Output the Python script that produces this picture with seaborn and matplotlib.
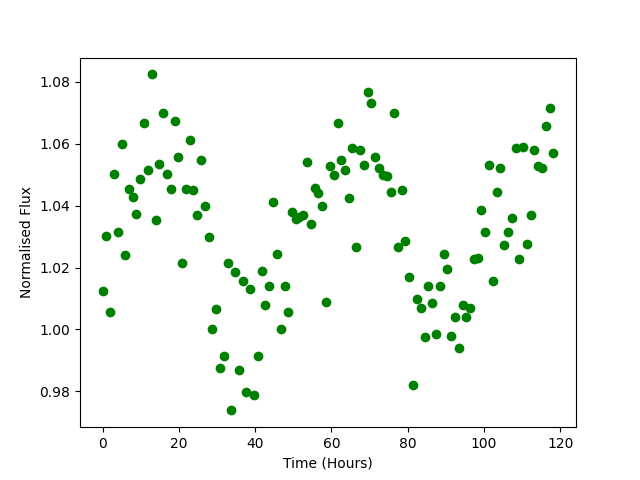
import matplotlib
matplotlib.use("Agg")
import matplotlib.pyplot as plt
import seaborn as sns
import pandas as pd

time_hours = [
    0.0, 1.0, 2.0, 3.0, 4.0, 5.0, 6.0, 7.0, 7.9, 8.9,
    9.9, 10.9, 11.9, 12.9, 13.9, 14.9, 15.9, 16.9, 17.9, 18.9,
    19.9, 20.9, 21.8, 22.8, 23.8, 24.8, 25.8, 26.8, 27.8, 28.8,
    29.8, 30.8, 31.8, 32.8, 33.8, 34.8, 35.7, 36.7, 37.7, 38.7,
    39.7, 40.7, 41.7, 42.7, 43.7, 44.7, 45.7, 46.7, 47.7, 48.7,
    49.6, 50.6, 51.6, 52.6, 53.6, 54.6, 55.6, 56.6, 57.6, 58.6,
    59.6, 60.6, 61.6, 62.6, 63.6, 64.5, 65.5, 66.5, 67.5, 68.5,
    69.5, 70.5, 71.5, 72.5, 73.5, 74.5, 75.5, 76.5, 77.5, 78.5,
    79.4, 80.4, 81.4, 82.4, 83.4, 84.4, 85.4, 86.4, 87.4, 88.4,
    89.4, 90.4, 91.4, 92.4, 93.4, 94.4, 95.3, 96.3, 97.3, 98.3,
    99.3, 100.3, 101.3, 102.3, 103.3, 104.3, 105.3, 106.3, 107.3, 108.3,
    109.2, 110.2, 111.2, 112.2, 113.2, 114.2, 115.2, 116.2, 117.2, 118.2,
]

norm_flux = [
    1.0123, 1.0303, 1.0058, 1.0503, 1.0313, 1.0597, 1.0239, 1.0452, 1.0426, 1.0374,
    1.0487, 1.0665, 1.0513, 1.0823, 1.0352, 1.0535, 1.0697, 1.0503, 1.0452, 1.0674,
    1.0555, 1.0213, 1.0452, 1.0610, 1.0450, 1.0368, 1.0548, 1.0400, 1.0297, 1.0003,
    1.0065, 0.9877, 0.9916, 1.0213, 0.9739, 1.0184, 0.9870, 1.0155, 0.9797, 1.0130,
    0.9790, 0.9916, 1.0190, 1.0080, 1.0139, 1.0410, 1.0245, 1.0000, 1.0140, 1.0055,
    1.0380, 1.0355, 1.0364, 1.0368, 1.0540, 1.0340, 1.0455, 1.0440, 1.0400, 1.0090,
    1.0529, 1.0497, 1.0665, 1.0548, 1.0516, 1.0423, 1.0584, 1.0265, 1.0580, 1.0532,
    1.0765, 1.0732, 1.0555, 1.0520, 1.0500, 1.0494, 1.0445, 1.0697, 1.0265, 1.0450,
    1.0287, 1.0168, 0.9820, 1.0100, 1.0068, 0.9977, 1.0139, 1.0087, 0.9984, 1.0139,
    1.0245, 1.0194, 0.9980, 1.0039, 0.9939, 1.0080, 1.0039, 1.0068, 1.0226, 1.0232,
    1.0384, 1.0316, 1.0532, 1.0158, 1.0445, 1.0520, 1.0271, 1.0316, 1.0361, 1.0587,
    1.0229, 1.0590, 1.0277, 1.0368, 1.0580, 1.0526, 1.0520, 1.0655, 1.0713, 1.0568,
]

df = pd.DataFrame({"Time (Hours)": time_hours, "Normalised Flux": norm_flux})

fig, ax = plt.subplots(figsize=(6.4, 4.8), dpi=100)
sns.scatterplot(data=df, x="Time (Hours)", y="Normalised Flux", ax=ax,
                color="green", s=36, edgecolor="green", linewidth=1)
ax.set_xlabel("Time (Hours)")
ax.set_ylabel("Normalised Flux")
fig.savefig("out.png", dpi=100)
